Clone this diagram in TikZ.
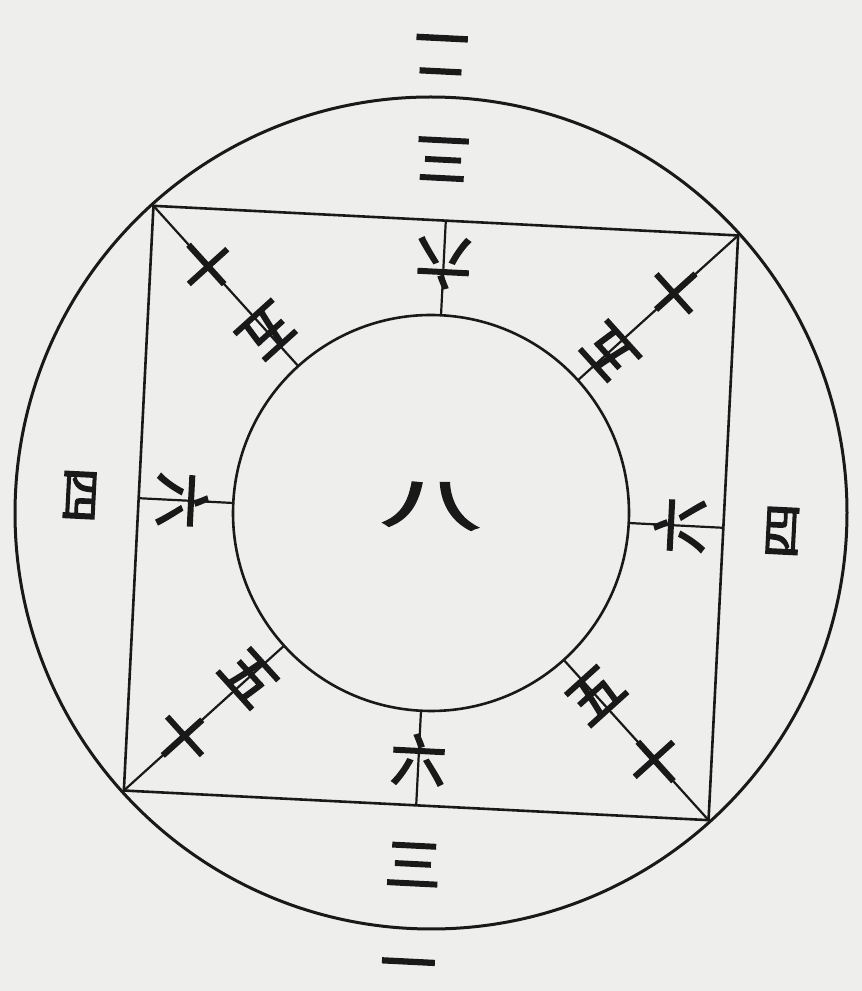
\documentclass[tikz,border=0pt]{standalone}
\usepackage{fontspec}
\newfontfamily\cjk[FakeBold=3]{Noto Sans CJK SC}
\definecolor{paper}{RGB}{238,238,236}
\definecolor{ink}{RGB}{25,25,25}
\begin{document}
\begin{tikzpicture}[x=1pt,y=1pt,
  ring/.style={circle, draw=ink, line width=3pt, inner sep=0pt},
  edge/.style={draw=ink, line width=2.6pt},
  tick/.style={draw=ink, line width=2.2pt},
  ch/.style={font=\cjk\fontsize{56}{56}\selectfont, text=ink, inner sep=0pt}]
\fill[paper] (0,0) rectangle (862,991);
\useasboundingbox (0,0) rectangle (862,991);
\begin{scope}[shift={(431,478)}, rotate=-2.9, transform shape]
  \node[ring, minimum size=832pt] (outer) at (0,0) {};
  \node[ring, line width=2.6pt, minimum size=396pt] (inner) at (0,0) {};
  \coordinate (tl) at (135:414);
  \coordinate (tr) at (45:414);
  \coordinate (br) at (-45:414);
  \coordinate (bl) at (225:414);
  \coordinate (mt) at (90:293);
  \coordinate (mb) at (270:293);
  \coordinate (ml) at (180:293);
  \coordinate (mr) at (0:293);
  \draw[edge] (tl) -- (tr) -- (br) -- (bl) -- cycle;
  \draw[tick] (tl) -- (inner.135);
  \draw[tick] (tr) -- (inner.45);
  \draw[tick] (br) -- (inner.-45);
  \draw[tick] (bl) -- (inner.225);
  \draw[tick] (mt) -- (inner.90);
  \draw[tick] (mb) -- (inner.270);
  \draw[tick] (ml) -- (inner.180);
  \draw[tick] (mr) -- (inner.0);
  % outer numbers
  \node[ch, rotate=180] (n2) at (91.6:459) {二};
  \node[ch] (n1) at (270:459) {一};
  \node[ch, rotate=180] (n3t) at (91:354) {三};
  \node[ch] (n3b) at (270:352) {三};
  \node[ch, rotate=-90, yscale=0.7] (n4l) at (180:352) {四};
  \node[ch, rotate=90, yscale=0.7] (n4r) at (0:352) {四};
  % six
  \node[ch, rotate=180] (n6t) at (90:250) {六};
  \node[ch] (n6b) at (270:247) {六};
  \node[ch, rotate=-90] (n6l) at (180:249) {六};
  \node[ch, rotate=90] (n6r) at (0:249) {六};
  % diagonals
  \node[ch, rotate=225] (d1a) at (135:335) {十};
  \node[ch, rotate=225] (d1b) at (135:245) {五};
  \node[ch, rotate=135] (d2a) at (45:330) {十};
  \node[ch, rotate=135] (d2b) at (45:240) {五};
  \node[ch, rotate=315] (d3a) at (225:335) {十};
  \node[ch, rotate=315] (d3b) at (225:245) {五};
  \node[ch, rotate=45] (d4a) at (-45:335) {十};
  \node[ch, rotate=45] (d4b) at (-45:245) {五};
  % center
  \node[ch, font=\cjk\fontsize{100}{100}\selectfont, yscale=0.55] (n8) at (0,8) {八};
\end{scope}
\end{tikzpicture}
\end{document}
